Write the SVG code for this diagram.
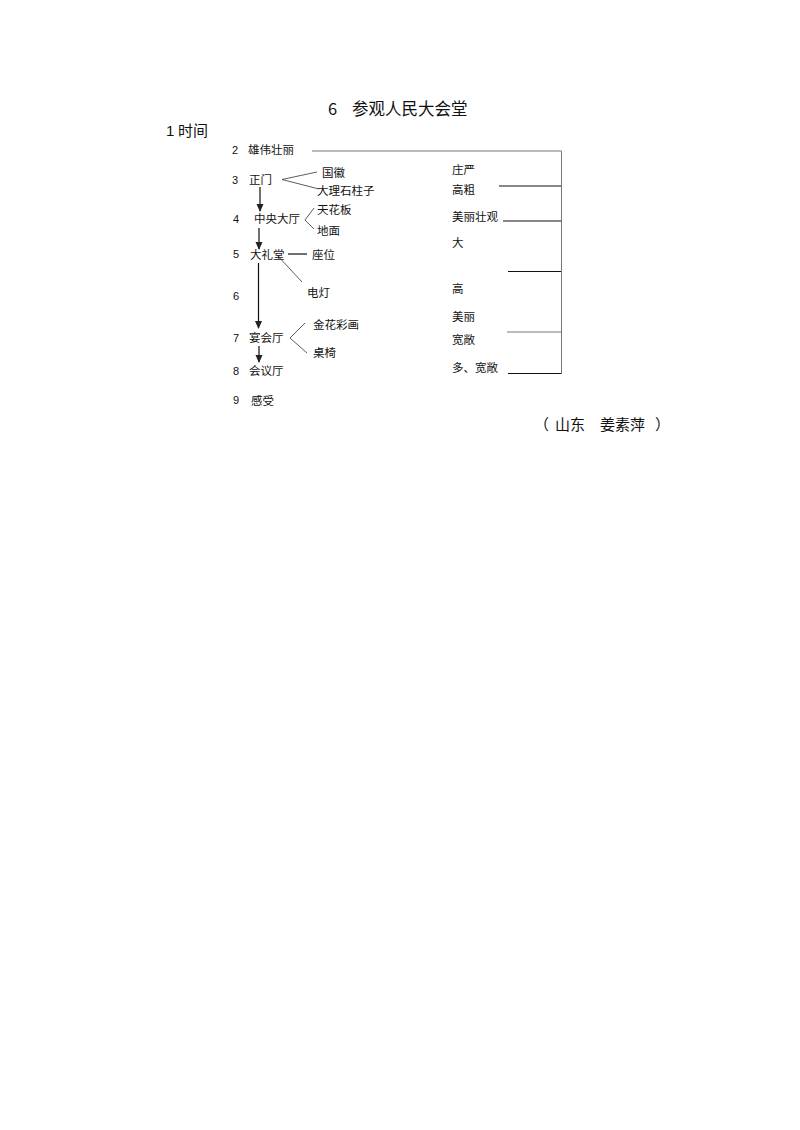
<svg xmlns="http://www.w3.org/2000/svg" width="800" height="1130" viewBox="0 0 800 1130">
<defs>
<marker id="ah" markerWidth="8" markerHeight="8" refX="7" refY="4" orient="auto" markerUnits="userSpaceOnUse">
<path d="M0,0.5 L8,4 L0,7.5 z" fill="#222"/>
</marker>
<style>
text{font-family:"Noto Sans CJK SC","Liberation Sans",sans-serif;fill:#111}
.s{font-size:11.5px}
.n{font-family:"Liberation Sans",sans-serif;font-size:11px}
.t{font-size:16.5px}
.ln{stroke:#111;stroke-width:1.2;fill:none}
.lg{stroke:#777;stroke-width:1;fill:none}
.lt{stroke:#333;stroke-width:0.8;fill:none}
</style>
</defs>
<rect width="800" height="1130" fill="#fff"/>
<g id="title">
<text class="t" x="328" y="115" font-family="Liberation Sans">6</text>
<text class="t" x="352" y="115">参观人民大会堂</text>
</g>
<g id="time"><text x="166" y="136" style="font-size:15px"><tspan font-family="Liberation Sans">1</tspan><tspan x="178">时间</tspan></text></g>
<g id="n2"><text class="n" x="232" y="154">2</text><text class="s" x="248" y="154">雄伟壮丽</text></g>
<g id="n3"><text class="n" x="232" y="184">3</text><text class="s" x="249" y="184">正门</text></g>
<g id="guohui"><text class="s" x="322" y="177">国徽</text></g>
<g id="dalishi"><text class="s" x="317" y="195">大理石柱子</text></g>
<g id="n4"><text class="n" x="233" y="223">4</text><text class="s" x="254" y="223">中央大厅</text></g>
<g id="tianhua"><text class="s" x="317" y="214">天花板</text></g>
<g id="dimian"><text class="s" x="317" y="235">地面</text></g>
<g id="n5"><text class="n" x="233" y="258">5</text><text class="s" x="250" y="259">大礼堂</text></g>
<g id="zuowei"><text class="s" x="312" y="259">座位</text></g>
<g id="diandeng"><text class="s" x="307" y="297">电灯</text></g>
<g id="n6"><text class="n" x="233" y="300">6</text></g>
<g id="n7"><text class="n" x="233" y="342">7</text><text class="s" x="249" y="342">宴会厅</text></g>
<g id="jinhua"><text class="s" x="313" y="329">金花彩画</text></g>
<g id="zhuoyi"><text class="s" x="313" y="357">桌椅</text></g>
<g id="n8"><text class="n" x="233" y="375">8</text><text class="s" x="249" y="375">会议厅</text></g>
<g id="n9"><text class="n" x="233" y="404">9</text><text class="s" x="251" y="405">感受</text></g>
<g id="right">
<text class="s" x="452" y="174">庄严</text>
<text class="s" x="452" y="194">高粗</text>
<text class="s" x="452" y="221">美丽壮观</text>
<text class="s" x="452" y="247">大</text>
<text class="s" x="452" y="293">高</text>
<text class="s" x="452" y="321">美丽</text>
<text class="s" x="452" y="344">宽敞</text>
<text class="s" x="452" y="372">多、宽敞</text>
</g>
<g id="author"><text y="430" style="font-size:15px"><tspan x="534">（</tspan><tspan x="555">山东　姜素萍</tspan><tspan x="655">）</tspan></text></g>
<g id="connectors">
<polyline class="lg" points="312,151 561.5,151 561.5,374"/>
<line class="ln" x1="499" y1="186" x2="561" y2="186"/>
<line class="ln" x1="503" y1="221" x2="561" y2="221"/>
<line class="ln" x1="508" y1="271.5" x2="561" y2="271.5"/>
<line class="lg" x1="507" y1="332" x2="561" y2="332"/>
<line class="ln" x1="508" y1="373.5" x2="561" y2="373.5"/>
<polyline class="lt" points="317,172 282,179.5 319,189"/>
<polyline class="lt" points="314,208 305,220 314,229"/>
<line class="ln" x1="288" y1="254" x2="307" y2="254"/>
<line class="lt" x1="277" y1="255" x2="302" y2="282"/>
<polyline class="lt" points="305,323 290,338 307,353"/>
<line class="ln" x1="260" y1="187" x2="260" y2="211" marker-end="url(#ah)"/>
<line class="ln" x1="259" y1="228" x2="259" y2="249" marker-end="url(#ah)"/>
<line class="ln" x1="258.5" y1="263" x2="258.5" y2="328" marker-end="url(#ah)"/>
<line class="ln" x1="259" y1="346" x2="259" y2="362" marker-end="url(#ah)"/>
</g>
</svg>
